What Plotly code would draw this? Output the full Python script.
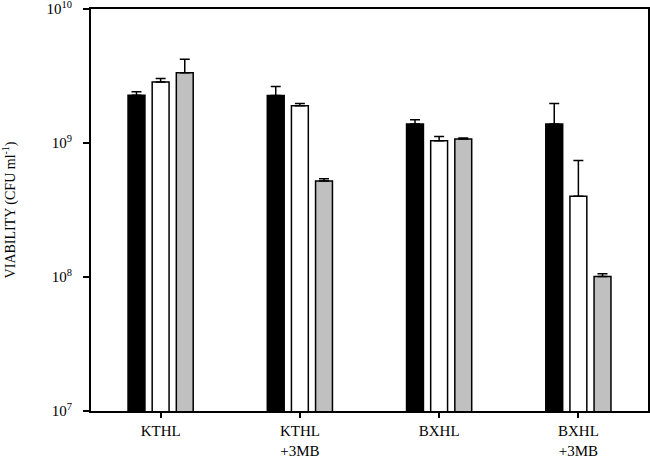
import plotly.graph_objects as go

# Strains / treatments on the x axis
groups = ["KTHL", "KTHL<br>+3MB", "BXHL", "BXHL<br>+3MB"]

black_vals = [2.27e9, 2.26e9, 1.39e9, 1.39e9]
black_err = [0.14e9, 0.38e9, 0.10e9, 0.58e9]

white_vals = [2.86e9, 1.90e9, 1.04e9, 4.0e8]
white_err = [0.17e9, 0.07e9, 0.08e9, 3.4e8]

gray_vals = [3.34e9, 5.2e8, 1.07e9, 1.01e8]
gray_err = [0.88e9, 0.21e8, 0.02e9, 0.05e8]

# y tick labels
ytick_vals = [1e7, 1e8, 1e9, 1e10]
ytick_text = ["10<sup>7</sup>", "10<sup>8</sup>", "10<sup>9</sup>", "10<sup>10</sup>"]

serif = "Liberation Serif, Times New Roman, serif"


def bar(vals, errs, color):
    return go.Bar(
        x=groups, y=vals,
        marker=dict(color=color, line=dict(color="black", width=1.5)),
        error_y=dict(type="data", symmetric=False, array=errs,
                     arrayminus=[0] * len(errs), color="black",
                     thickness=1.5, width=5),
        showlegend=False,
    )


fig = go.Figure(data=[
    bar(black_vals, black_err, "black"),
    bar(white_vals, white_err, "white"),
    bar(gray_vals, gray_err, "#c0c0c0"),
])

fig.update_layout(
    width=650, height=461,
    margin=dict(l=91, r=2, t=9, b=50),
    barmode="group", bargap=0.48, bargroupgap=0.3,
    plot_bgcolor="white", paper_bgcolor="white",
    font=dict(family=serif, color="black", size=15),
)

fig.update_xaxes(
    automargin=False,
    showline=True, linecolor="black", linewidth=2, mirror=True,
    ticks="outside", ticklen=5, tickwidth=2, tickcolor="black",
    tickfont=dict(size=15), range=[-0.5, 3.5],
)

fig.update_yaxes(
    automargin=False,
    type="log", range=[7, 10.0005],
    showline=True, linecolor="black", linewidth=2, mirror=True,
    ticks="outside", ticklen=6, tickwidth=2, tickcolor="black",
    tickvals=ytick_vals, ticktext=ytick_text, tickfont=dict(size=15),
    ticklabeloverflow="allow", ticklabelstandoff=8,
    showgrid=False, zeroline=False,
    title=dict(text="VIABILITY (CFU ml<sup>-1</sup>)", font=dict(size=14), standoff=40),
)

# page has a default body margin, drop it so the figure sits at 0,0
fig.write_html("out.html", config={"displayModeBar": False},
               post_script="document.body.style.margin='0';")
